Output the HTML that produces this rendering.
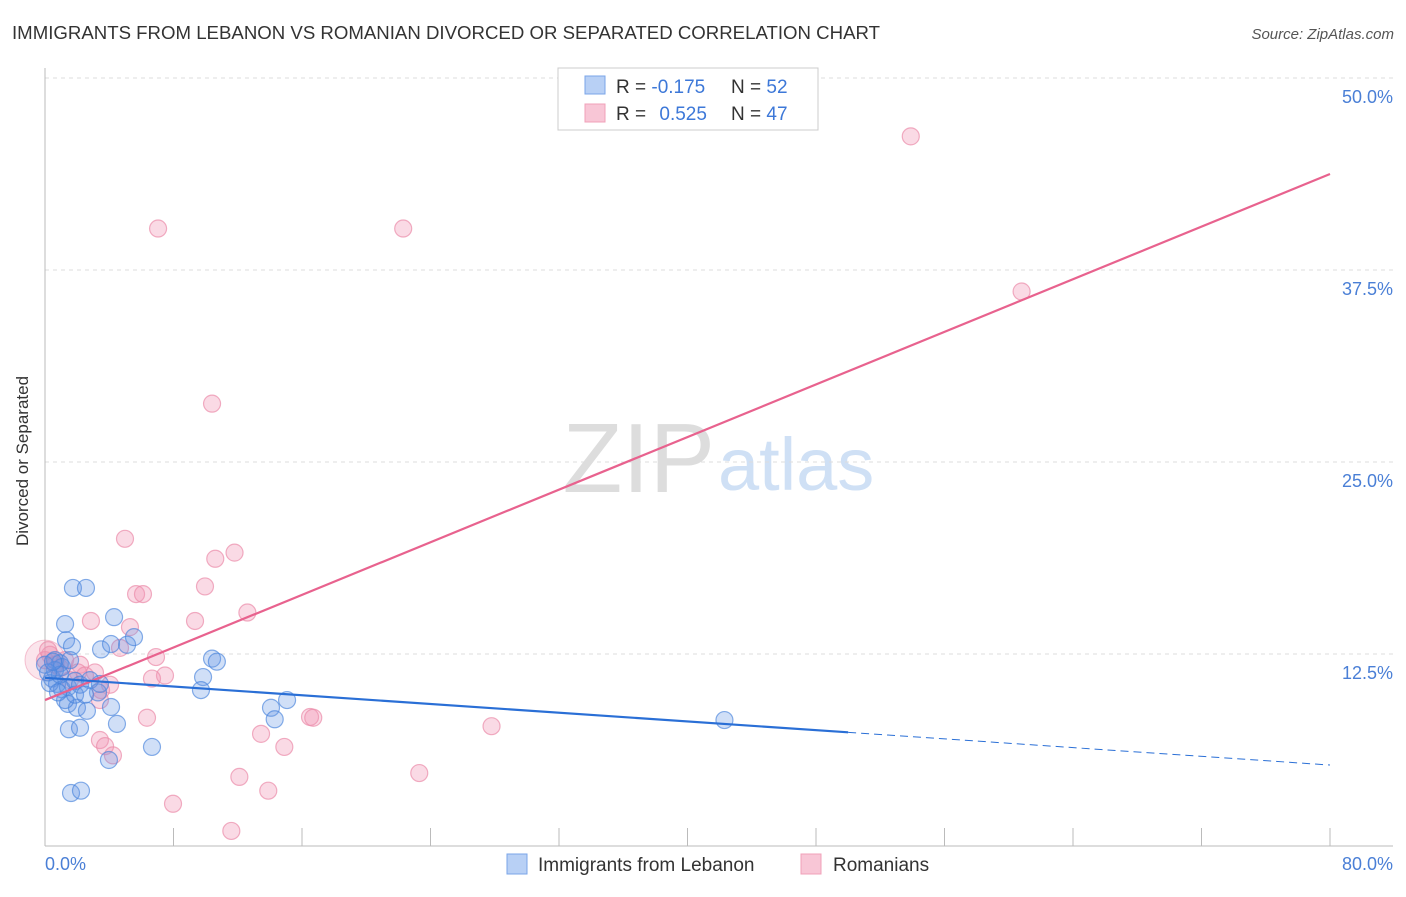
<!DOCTYPE html>
<html><head><meta charset="utf-8"><style>
body{margin:0;background:#fff;font-family:"Liberation Sans",sans-serif;}
svg text{font-family:"Liberation Sans",sans-serif;}
</style></head><body>
<svg width="1406" height="892">
<text x="12" y="39" font-size="18" fill="#333" textLength="868" lengthAdjust="spacingAndGlyphs">IMMIGRANTS FROM LEBANON VS ROMANIAN DIVORCED OR SEPARATED CORRELATION CHART</text>
<text x="1394" y="39" font-size="15" fill="#555" text-anchor="end" font-style="italic">Source: ZipAtlas.com</text>
<text x="715" y="492" font-size="98" fill="#ddd" text-anchor="end" font-family="Liberation Serif">ZIP</text>
<text x="718" y="490" font-size="74" fill="#cfe0f5">atlas</text>
<g id="grid"></g>
<line x1="45" y1="846" x2="1393" y2="846" stroke="#bbb"/>
<line x1="45" y1="68" x2="45" y2="846" stroke="#bbb"/>
<text x="22" y="455" font-size="17" fill="#333" text-anchor="middle" transform="rotate(-90 28 455)">Divorced or Separated</text>
<text x="45" y="870" font-size="18" fill="#4a7fd6">0.0%</text>
<text x="1393" y="870" font-size="18" fill="#4a7fd6" text-anchor="end">80.0%</text>
<g id="marks"></g>
<g>
<rect x="558" y="68" width="260" height="62" fill="#fff" stroke="#ccc"/>
<rect x="585" y="76" width="20" height="18" fill="#b8d0f5" stroke="#7aa5e8"/>
<rect x="585" y="104" width="20" height="18" fill="#f8c6d6" stroke="#f0a0b8"/>
<text x="616" y="93" font-size="19" fill="#333">R = <tspan fill="#3d78d8">-0.175</tspan><tspan x="731">N = </tspan><tspan fill="#3d78d8">52</tspan></text>
<text x="616" y="120" font-size="19" fill="#333">R = <tspan fill="#3d78d8" dx="8">0.525</tspan><tspan x="731">N = </tspan><tspan fill="#3d78d8">47</tspan></text>
</g>
<g>
<rect x="507" y="854" width="20" height="20" fill="#b8d0f5" stroke="#7aa5e8"/>
<text x="538" y="871" font-size="19" fill="#333">Immigrants from Lebanon</text>
<rect x="801" y="854" width="20" height="20" fill="#f8c6d6" stroke="#f0a0b8"/>
<text x="833" y="871" font-size="19" fill="#333">Romanians</text>
</g>
</svg>
<script>
const yTicks=[12.5,25,37.5,50];
const yTickLabels=["12.5%","25.0%","37.5%","50.0%"];
const xTicks=[0,8,16,24,32,40,48,56,64,72,80];
const blueX=[1.74,2.55,1.25,4.30,1.31,1.68,3.49,4.11,5.11,5.54,0.62,0.93,1.06,0.44,0.75,1.06,1.43,1.87,2.18,1.43,1.99,2.61,3.30,4.11,1.49,2.18,4.48,3.98,6.66,1.62,2.24,10.4,10.7,9.84,9.71,14.07,14.3,15.07,42.3,0.62,0.31,0.93,2.80,3.42,1.25,1.87,0.0,0.19,0.5,1.56,0.81,2.49];
const blueY=[16.8,16.8,14.45,14.9,13.4,13.0,12.8,13.15,13.1,13.6,12.1,11.9,11.65,10.9,10.55,10.2,10.35,10.75,10.5,9.25,9.0,8.8,10.0,9.05,7.6,7.7,7.95,5.6,6.45,3.45,3.6,12.2,12.0,11.0,10.15,9.0,8.25,9.5,8.2,11.45,10.6,11.15,10.8,10.55,9.5,9.85,11.8,11.3,12.0,12.1,10.0,9.85];
const pinkX=[7.04,22.3,53.9,60.8,10.4,4.98,11.8,10.6,9.96,5.67,6.10,12.6,9.34,2.86,5.29,4.67,6.91,7.47,6.66,4.05,3.49,2.18,2.05,3.11,0.93,0.31,0.62,0,1.25,6.35,3.42,3.74,4.23,13.45,14.9,16.5,16.7,27.8,23.3,12.1,7.97,13.9,11.6,1.56,2.49,3.42,0.19];
const pinkY=[40.2,40.2,46.2,36.1,28.8,20.0,19.1,18.7,16.9,16.4,16.4,15.2,14.65,14.65,14.25,12.9,12.3,11.1,10.9,10.5,10.15,11.8,11.3,11.3,11.6,12.45,11.8,12.1,12.1,8.35,6.9,6.5,5.9,7.3,6.45,8.4,8.35,7.8,4.75,4.5,2.75,3.6,0.98,10.8,11.1,9.5,12.75];
const blueTrend=[10.95,5.27];
const pinkTrend=[9.5,43.75];
const NS='http://www.w3.org/2000/svg';
const sx=v=>45+v/80*1285;
const sy=v=>846-v*15.36;
function mk(t,a,p){const e=document.createElementNS(NS,t);for(const k in a)e.setAttribute(k,a[k]);p.appendChild(e);return e;}
const grid=document.getElementById('grid');
yTicks.forEach((t,i)=>{
 const l=mk('line',{x1:45,x2:1393,y1:sy(t),y2:sy(t),stroke:'#ddd','stroke-dasharray':'4,4'},grid);
 
 
 const tx=mk('text',{x:1393,y:sy(t)+25,'font-size':18,fill:'#4a7fd6','text-anchor':'end'},grid);
 tx.textContent=yTickLabels[i];
 
 
});
xTicks.forEach(t=>{
 const l=mk('line',{x1:sx(t),x2:sx(t),y1:828,y2:846,stroke:'#bbb'},grid);
 
 
});
const marks=document.getElementById('marks');
const big=mk('circle',{cx:sx(0),cy:sy(12.1),r:20,fill:'rgba(240,150,180,0.25)',stroke:'rgba(235,140,170,0.5)'},marks);


pinkX.forEach((x,i)=>{
 const c=mk('circle',{cx:sx(x),cy:sy(pinkY[i]),r:8.5,fill:'rgba(240,150,180,0.35)',stroke:'rgba(235,140,170,0.7)','stroke-width':1.2},marks);
 
 
});
blueX.forEach((x,i)=>{
 const c=mk('circle',{cx:sx(x),cy:sy(blueY[i]),r:8.5,fill:'rgba(100,150,230,0.3)',stroke:'rgba(70,130,220,0.65)','stroke-width':1.2},marks);
 
 
});
const bAt=x=>blueTrend[0]+(blueTrend[1]-blueTrend[0])*x/80;
const pl=mk('line',{x1:sx(0),y1:sy(pinkTrend[0]),x2:sx(80),y2:sy(pinkTrend[1]),stroke:'#e8628e','stroke-width':2.2},marks);


const bl=mk('line',{x1:sx(0),y1:sy(bAt(0)),x2:sx(50),y2:sy(bAt(50)),stroke:'#2a6fd6','stroke-width':2.2},marks);


const bd=mk('line',{x1:sx(50),y1:sy(bAt(50)),x2:sx(80),y2:sy(bAt(80)),stroke:'#2a6fd6','stroke-width':1,'stroke-dasharray':'8,5'},marks);


</script>
</body></html>
